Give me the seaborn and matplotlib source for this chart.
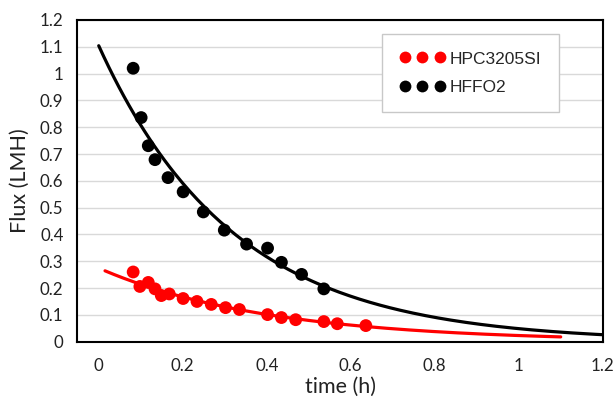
import numpy as np
import pandas as pd
import matplotlib
matplotlib.use("Agg")
import matplotlib.pyplot as plt
from matplotlib.lines import Line2D
import seaborn as sns

# ---- data ----
series_names = ["HPC3205SI", "HFFO2"]

red_time = [0.082, 0.098, 0.118, 0.134, 0.149, 0.168, 0.201, 0.234, 0.268,
            0.302, 0.335, 0.402, 0.435, 0.469, 0.536, 0.568, 0.636]
red_flux = [0.26, 0.206, 0.221, 0.197, 0.172, 0.178, 0.161, 0.150, 0.139,
            0.127, 0.120, 0.101, 0.090, 0.082, 0.075, 0.067, 0.060]

black_time = [0.082, 0.101, 0.118, 0.134, 0.165, 0.201, 0.249, 0.299, 0.352,
              0.402, 0.435, 0.483, 0.536]
black_flux = [1.02, 0.836, 0.731, 0.679, 0.612, 0.559, 0.484, 0.416, 0.364,
              0.349, 0.296, 0.251, 0.197]

# trendline extents (x range of the exponential trendlines)
red_trend_range = [0.015, 1.10]
black_trend_range = [0.0, 1.20]

x_ticks = [0, 0.2, 0.4, 0.6, 0.8, 1, 1.2]
x_ticklabels = ["0", "0.2", "0.4", "0.6", "0.8", "1", "1.2"]
y_ticks = [0, 0.1, 0.2, 0.3, 0.4, 0.5, 0.6, 0.7, 0.8, 0.9, 1, 1.1, 1.2]
y_ticklabels = ["0", "0.1", "0.2", "0.3", "0.4", "0.5", "0.6", "0.7", "0.8",
                "0.9", "1", "1.1", "1.2"]

colors = {"HPC3205SI": "#ff0000", "HFFO2": "#000000"}

# ---- build tables ----
pts = pd.concat([
    pd.DataFrame({"time": red_time, "flux": red_flux, "series": series_names[0]}),
    pd.DataFrame({"time": black_time, "flux": black_flux, "series": series_names[1]}),
], ignore_index=True)


def exp_trend(t, f, rng):
    b, ln_a = np.polyfit(np.asarray(t), np.log(np.asarray(f)), 1)
    xs = np.linspace(rng[0], rng[1], 200)
    return xs, np.exp(ln_a) * np.exp(b * xs)


trend_frames = []
for name, t, f, rng in [(series_names[0], red_time, red_flux, red_trend_range),
                        (series_names[1], black_time, black_flux, black_trend_range)]:
    xs, ys = exp_trend(t, f, rng)
    trend_frames.append(pd.DataFrame({"time": xs, "flux": ys, "series": name}))
trend = pd.concat(trend_frames, ignore_index=True)

# ---- plot ----
sns.set_theme(style="white")
plt.rcParams["font.family"] = ["Lato", "DejaVu Sans"]

fig = plt.figure(figsize=(6.15, 4.0), dpi=100)
ax = fig.add_axes([0.1257, 0.1458, 0.98 - 0.1257, 0.95 - 0.1458])

sns.lineplot(data=trend, x="time", y="flux", hue="series", palette=colors,
             linewidth=2.3, legend=False, ax=ax, zorder=2)
sns.scatterplot(data=pts, x="time", y="flux", hue="series", palette=colors,
                s=85, edgecolor="none", legend=False, ax=ax, zorder=3)

ax.set_xlim(-0.051, 1.2)
ax.set_ylim(0, 1.2)
ax.set_xticks(x_ticks)
ax.set_xticklabels(x_ticklabels)
ax.set_yticks(y_ticks)
ax.set_yticklabels(y_ticklabels)

ax.yaxis.grid(True, color="#d9d9d9", linewidth=1.0)
ax.xaxis.grid(False)
ax.set_axisbelow(True)

for sp in ax.spines.values():
    sp.set_visible(True)
    sp.set_color("black")
    sp.set_linewidth(1.5)

ax.tick_params(axis="both", direction="in", length=6.5, width=1.3,
               color="black", labelsize=12.2, labelcolor="#222222")
ax.tick_params(axis="x", pad=12)
ax.tick_params(axis="y", pad=10)

ax.set_xlabel("time (h)", fontsize=15.5, color="#222222", labelpad=2)
ax.set_ylabel("Flux (LMH)", fontsize=15.5, color="#222222", labelpad=7)

handles = [Line2D([], [], marker="o", linestyle="none", color=colors[n],
                  markersize=8.5, markeredgewidth=0) for n in series_names]
leg = ax.legend(handles, series_names, loc="upper left",
                bbox_to_anchor=(0.5805, 0.9565), borderaxespad=0,
                numpoints=3, frameon=True, fancybox=False,
                prop={"family": ["Liberation Sans"], "size": 12.5},
                handlelength=2.6, handletextpad=0.3, labelspacing=0.75,
                borderpad=1.0, markerscale=1.0)
leg.get_frame().set_edgecolor("#c8c8c8")
leg.get_frame().set_linewidth(1.0)
leg.get_frame().set_facecolor("white")
leg.get_frame().set_alpha(1)

fig.savefig("out.png", dpi=100)
